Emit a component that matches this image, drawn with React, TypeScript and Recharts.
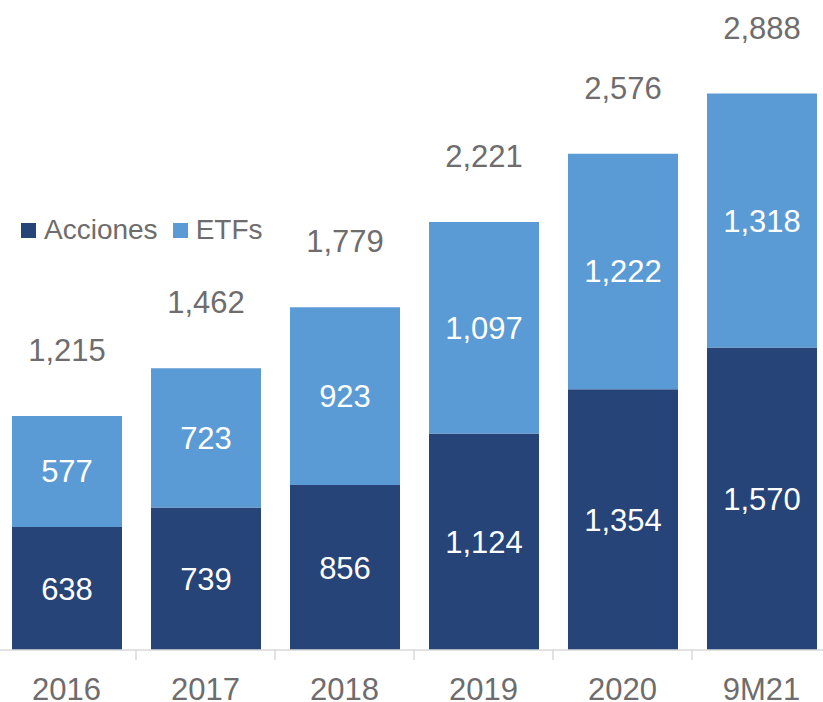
import { BarChart, Bar, XAxis, YAxis, Legend, LabelList } from "recharts";

const years = ["2016", "2017", "2018", "2019", "2020", "9M21"];
const acciones = [638, 739, 856, 1124, 1354, 1570];
const etfs = [577, 723, 923, 1097, 1222, 1318];
const totals = [1215, 1462, 1779, 2221, 2576, 2888];

const data = years.map((year, i) => ({
  year,
  acciones: acciones[i],
  etfs: etfs[i],
  total: totals[i],
}));

const DARK = "#264478";
const LIGHT = "#5B9BD5";
const GREY = "#6e6c6c";
const FONT = "'Liberation Sans', Arial, sans-serif";

const CHART_W = 834;
const CHART_H = 702;
const HALF_BAND = CHART_W / years.length / 2;

const fmt = (v: number) => v.toLocaleString("en-US");

function YearTick(props: any) {
  const { x, payload, index } = props;
  return (
    <g>
      {index < years.length - 1 && (
        <line
          x1={x + HALF_BAND}
          x2={x + HALF_BAND}
          y1={650}
          y2={660}
          stroke="#d9d9d9"
          strokeWidth={1.5}
        />
      )}
      <text
        x={x}
        y={700}
        textAnchor="middle"
        fill={GREY}
        fontSize={31}
        fontFamily={FONT}
      >
        {payload.value}
      </text>
    </g>
  );
}

function TotalLabel(props: any) {
  const { x, y, width, index } = props;
  return (
    <text
      x={x + width / 2}
      y={y - 55}
      textAnchor="middle"
      fill={GREY}
      fontSize={31}
      fontFamily={FONT}
    >
      {fmt(totals[index])}
    </text>
  );
}

function LegendBox() {
  const items = [
    { label: "Acciones", color: DARK },
    { label: "ETFs", color: LIGHT },
  ];
  return (
    <div style={{ display: "flex", alignItems: "center", fontFamily: FONT }}>
      {items.map((it) => (
        <div
          key={it.label}
          style={{ display: "flex", alignItems: "center", marginRight: 15 }}
        >
          <span
            style={{
              width: 15,
              height: 15,
              background: it.color,
              display: "inline-block",
              marginRight: 8,
            }}
          />
          <span style={{ fontSize: 28, color: GREY, lineHeight: "32px" }}>
            {it.label}
          </span>
        </div>
      ))}
    </div>
  );
}

export default function App() {
  return (
    <div
      style={{
        position: "fixed",
        left: 0,
        top: 0,
        width: 823,
        height: 702,
        overflow: "hidden",
        background: "#fff",
      }}
    >
      <div style={{ position: "absolute", left: -3, top: 0 }}>
        <BarChart
          width={CHART_W}
          height={CHART_H}
          data={data}
          margin={{ top: 72, right: 0, bottom: 0, left: 0 }}
        >
          <XAxis
            dataKey="year"
            height={52}
            axisLine={{ stroke: "#d9d9d9", strokeWidth: 1.5 }}
            tickLine={false}
            tick={<YearTick />}
            interval={0}
          />
          <YAxis hide domain={[0, 3000]} />
          <Legend
            layout="horizontal"
            verticalAlign="middle"
            align="center"
            content={<LegendBox />}
            wrapperStyle={{ top: 214, left: 24, width: "auto" }}
          />
          <Bar
            dataKey="acciones"
            stackId="a"
            fill={DARK}
            barSize={110}
            isAnimationActive={false}
          >
            <LabelList
              dataKey="acciones"
              position="center"
              fill="#ffffff"
              fontSize={31}
              fontFamily={FONT}
              formatter={(v: any) => fmt(Number(v))}
            />
          </Bar>
          <Bar
            dataKey="etfs"
            stackId="a"
            fill={LIGHT}
            barSize={110}
            isAnimationActive={false}
          >
            <LabelList
              dataKey="etfs"
              position="center"
              fill="#ffffff"
              fontSize={31}
              fontFamily={FONT}
              formatter={(v: any) => fmt(Number(v))}
            />
            <LabelList dataKey="total" content={<TotalLabel />} />
          </Bar>
        </BarChart>
      </div>
    </div>
  );
}
